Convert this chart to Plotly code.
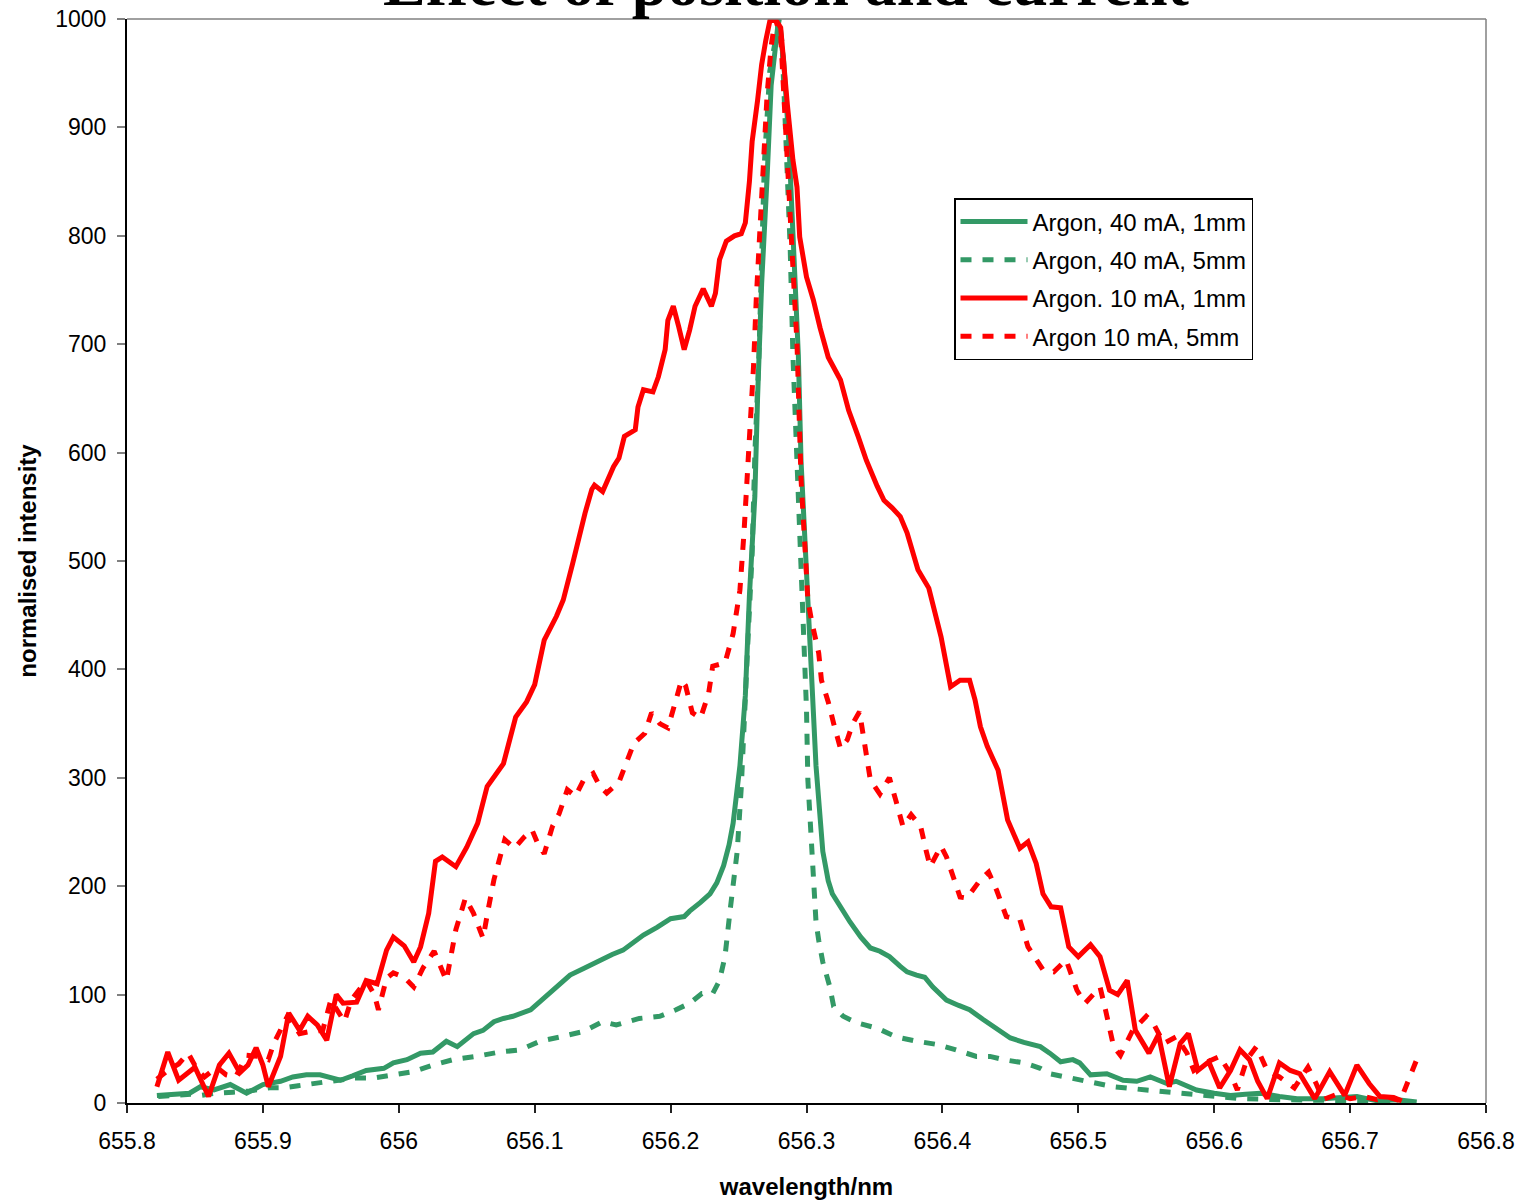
import plotly.graph_objects as go

# ---------------- data ----------------
wl_40_1 = [655.822, 655.835, 655.846, 655.854, 655.864, 655.876, 655.888, 655.900, 655.913, 655.922,
           655.932, 655.942, 655.950, 655.957, 655.966, 655.976, 655.989, 655.996, 656.006, 656.016,
           656.025, 656.035, 656.043, 656.055, 656.062, 656.070, 656.077, 656.084, 656.097, 656.104,
           656.111, 656.118, 656.126, 656.136, 656.148, 656.157, 656.165, 656.172, 656.180, 656.190,
           656.200, 656.210, 656.214, 656.222, 656.229, 656.234, 656.239, 656.243, 656.246, 656.251,
           656.255, 656.258, 656.262, 656.264, 656.267, 656.271, 656.274, 656.279, 656.283, 656.287,
           656.290, 656.294, 656.296, 656.300, 656.304, 656.307, 656.312, 656.316, 656.319, 656.325,
           656.332, 656.340, 656.347, 656.354, 656.361, 656.369, 656.374, 656.381, 656.387, 656.393,
           656.403, 656.412, 656.420, 656.430, 656.440, 656.450, 656.460, 656.467, 656.472, 656.479,
           656.487, 656.496, 656.501, 656.509, 656.521, 656.533, 656.543, 656.553, 656.565, 656.572,
           656.587, 656.600, 656.612, 656.623, 656.634, 656.648, 656.661, 656.680, 656.697, 656.705,
           656.720, 656.735, 656.749]
int_40_1 = [7, 8, 9, 15, 12, 17, 9, 17, 20, 24,
            26, 26, 23, 21, 25, 30, 32, 37, 40, 46,
            47, 57, 52, 64, 67, 75, 78, 80, 86, 94,
            101, 110, 118, 124, 132, 137, 141, 148, 155, 162,
            170, 172, 177, 185, 193, 203, 219, 238, 258, 311,
            376, 468, 560, 651, 756, 854, 939, 995, 965, 887,
            802, 690, 592, 494, 396, 311, 232, 205, 193, 180,
            167, 153, 143, 140, 135, 126, 121, 118, 116, 107,
            95, 90, 86, 77, 68, 60, 56, 53, 52, 46,
            38, 40, 37, 26, 27, 21, 20, 24, 18, 20,
            12, 9, 7, 8, 9, 6, 4, 4, 6, 6,
            2, 3, 1]

wl_40_5 = [655.823, 655.835, 655.847, 655.854, 655.865, 655.878, 655.890, 655.905, 655.915, 655.926,
           655.937, 655.952, 655.967, 655.981, 655.996, 656.011, 656.025, 656.040, 656.057, 656.074,
           656.089, 656.104, 656.119, 656.136, 656.150, 656.160, 656.177, 656.192, 656.204, 656.214,
           656.223, 656.231, 656.236, 656.240, 656.244, 656.249, 656.252, 656.255, 656.257, 656.260,
           656.262, 656.265, 656.267, 656.269, 656.273, 656.280, 656.282, 656.285, 656.288, 656.290,
           656.293, 656.295, 656.298, 656.300, 656.301, 656.304, 656.307, 656.309, 656.312, 656.317,
           656.320, 656.327, 656.337, 656.352, 656.366, 656.381, 656.396, 656.410, 656.425, 656.435,
           656.445, 656.460, 656.472, 656.479, 656.490, 656.501, 656.526, 656.550, 656.575, 656.599,
           656.620, 656.650, 656.680, 656.710, 656.749]
int_40_5 = [6, 7, 8, 7, 9, 10, 11, 14, 14, 16,
            18, 20, 23, 23, 26, 29, 35, 40, 43, 47,
            49, 57, 61, 66, 75, 72, 78, 80, 86, 92,
            101, 101, 113, 135, 180, 232, 291, 363, 429, 507,
            599, 690, 782, 867, 952, 1000, 978, 887, 789, 690,
            592, 507, 429, 363, 298, 232, 167, 150, 130, 108,
            89, 80, 74, 69, 61, 57, 54, 49, 43, 43,
            40, 37, 32, 27, 24, 21, 15, 12, 9, 6,
            4, 3, 2, 2, 1]

wl_10_1 = [655.822, 655.830, 655.838, 655.846, 655.850, 655.860, 655.868, 655.875, 655.883, 655.889,
           655.895, 655.900, 655.904, 655.913, 655.919, 655.927, 655.933, 655.940, 655.947, 655.954,
           655.959, 655.969, 655.976, 655.984, 655.991, 655.996, 656.004, 656.011, 656.016, 656.022,
           656.027, 656.032, 656.037, 656.042, 656.050, 656.058, 656.065, 656.071, 656.077, 656.086,
           656.094, 656.100, 656.107, 656.116, 656.121, 656.128, 656.133, 656.137, 656.142, 656.144,
           656.150, 656.158, 656.162, 656.166, 656.174, 656.176, 656.180, 656.187, 656.191, 656.196,
           656.198, 656.202, 656.206, 656.210, 656.214, 656.218, 656.224, 656.230, 656.233, 656.236,
           656.241, 656.247, 656.252, 656.255, 656.258, 656.260, 656.264, 656.267, 656.270, 656.273,
           656.277, 656.281, 656.286, 656.290, 656.293, 656.295, 656.300, 656.305, 656.310, 656.316,
           656.325, 656.331, 656.338, 656.344, 656.352, 656.357, 656.363, 656.369, 656.374, 656.382,
           656.390, 656.399, 656.406, 656.413, 656.420, 656.424, 656.428, 656.433, 656.441, 656.448,
           656.457, 656.463, 656.469, 656.474, 656.480, 656.487, 656.493, 656.500, 656.509, 656.516,
           656.523, 656.529, 656.536, 656.542, 656.552, 656.559, 656.567, 656.575, 656.581, 656.588,
           656.596, 656.604, 656.612, 656.619, 656.626, 656.632, 656.639, 656.648, 656.656, 656.663,
           656.674, 656.685, 656.696, 656.705, 656.714, 656.722, 656.732, 656.738]
int_10_1 = [15, 47, 21, 30, 33, 6, 35, 46, 28, 35,
            51, 35, 15, 43, 83, 67, 80, 72, 58, 100,
            92, 93, 113, 110, 141, 153, 145, 130, 144, 175,
            223, 227, 222, 218, 236, 258, 292, 303, 313, 356,
            370, 386, 427, 449, 464, 498, 526, 544, 566, 570,
            564, 587, 595, 615, 621, 642, 658, 656, 670, 695,
            722, 735, 716, 695, 713, 735, 751, 735, 747, 778,
            795, 800, 802, 812, 850, 887, 925, 958, 980, 998,
            1000, 992, 920, 870, 845, 799, 762, 741, 715, 688,
            667, 639, 615, 593, 569, 556, 549, 541, 526, 492,
            475, 430, 384, 390, 390, 372, 347, 329, 307, 261,
            235, 241, 221, 193, 181, 180, 144, 135, 146, 135,
            104, 100, 113, 67, 46, 63, 15, 55, 64, 30,
            38, 14, 30, 49, 40, 20, 4, 37, 30, 27,
            4, 29, 7, 35, 18, 6, 5, 2]

wl_10_5 = [655.822, 655.830, 655.838, 655.845, 655.852, 655.857, 655.866, 655.873, 655.880, 655.888,
           655.897, 655.904, 655.908, 655.918, 655.927, 655.935, 655.944, 655.950, 655.960, 655.965,
           655.976, 655.982, 655.985, 655.991, 655.996, 656.004, 656.011, 656.018, 656.026, 656.030,
           656.035, 656.042, 656.049, 656.055, 656.062, 656.066, 656.070, 656.078, 656.085, 656.092,
           656.098, 656.102, 656.107, 656.113, 656.118, 656.124, 656.130, 656.136, 656.143, 656.148,
           656.153, 656.162, 656.168, 656.173, 656.181, 656.186, 656.192, 656.198, 656.204, 656.208,
           656.211, 656.216, 656.222, 656.228, 656.231, 656.240, 656.246, 656.251, 656.254, 656.256,
           656.258, 656.261, 656.263, 656.265, 656.268, 656.271, 656.274, 656.277, 656.281, 656.284,
           656.288, 656.290, 656.293, 656.295, 656.296, 656.299, 656.301, 656.304, 656.309, 656.311,
           656.316, 656.320, 656.325, 656.330, 656.334, 656.339, 656.343, 656.347, 656.354, 656.361,
           656.366, 656.371, 656.377, 656.384, 656.388, 656.391, 656.399, 656.403, 656.413, 656.418,
           656.428, 656.434, 656.440, 656.447, 656.457, 656.463, 656.474, 656.482, 656.491, 656.499,
           656.505, 656.516, 656.520, 656.526, 656.531, 656.540, 656.550, 656.555, 656.563, 656.572,
           656.580, 656.585, 656.595, 656.604, 656.612, 656.617, 656.624, 656.631, 656.639, 656.648,
           656.659, 656.669, 656.675, 656.680, 656.690, 656.700, 656.710, 656.720, 656.729, 656.737,
           656.742, 656.749]
int_10_5 = [22, 30, 36, 46, 30, 24, 33, 26, 24, 44,
            43, 40, 55, 80, 64, 66, 67, 95, 75, 95,
            113, 100, 86, 115, 120, 116, 107, 125, 140, 128,
            113, 160, 189, 175, 152, 180, 206, 243, 235, 245,
            252, 240, 230, 255, 267, 289, 283, 298, 304, 292,
            286, 296, 316, 332, 341, 360, 350, 346, 372, 390,
            385, 360, 355, 378, 403, 406, 433, 473, 526, 569,
            618, 679, 741, 787, 860, 930, 975, 1000, 985, 920,
            833, 771, 701, 618, 575, 510, 464, 443, 415, 390,
            370, 350, 327, 335, 350, 361, 330, 298, 285, 300,
            278, 255, 266, 255, 233, 218, 237, 227, 190, 189,
            206, 213, 196, 172, 169, 144, 123, 121, 132, 104,
            92, 107, 86, 52, 44, 67, 80, 74, 55, 61,
            46, 30, 38, 43, 27, 12, 40, 52, 30, 24,
            14, 33, 18, 3, 8, 4, 6, 3, 5, 2,
            18, 40]

series_names = ["Argon, 40 mA, 1mm", "Argon, 40 mA, 5mm", "Argon. 10 mA, 1mm", "Argon 10 mA, 5mm"]
x_ticks = [655.8, 655.9, 656.0, 656.1, 656.2, 656.3, 656.4, 656.5, 656.6, 656.7, 656.8]
x_tick_text = ["655.8", "655.9", "656", "656.1", "656.2", "656.3", "656.4", "656.5", "656.6", "656.7", "656.8"]

GREEN = "#339966"
RED = "#FF0000"
SANS = "Arial, Liberation Sans, sans-serif"
SERIF = "Times New Roman, Liberation Serif, serif"

fig = go.Figure()
specs = [
    (wl_40_1, int_40_1, series_names[0], GREEN, "solid", "g1"),
    (wl_40_5, int_40_5, series_names[1], GREEN, "11px,11px", "g2"),
    (wl_10_1, int_10_1, series_names[2], RED, "solid", "g3"),
    (wl_10_5, int_10_5, series_names[3], RED, "11px,11px", "g4"),
]
for xs, ys, name, col, dash, grp in specs:
    fig.add_trace(go.Scatter(x=xs, y=ys, name=name, mode="lines", legendgroup=grp,
                             line=dict(color=col, width=5, dash=dash)))

fig.update_layout(
    width=1520, height=1200,
    margin=dict(l=127, r=34, t=19, b=97, autoexpand=False),
    paper_bgcolor="white", plot_bgcolor="white",
    font=dict(family=SANS, size=23, color="black"),
    showlegend=True,
    legend=dict(x=(954 - 127) / 1359, y=(1103 - 198) / 1084, xanchor="left", yanchor="top",
                bgcolor="white", bordercolor="black", borderwidth=1.5,
                font=dict(family=SANS, size=24, color="black"),
                itemwidth=67, tracegroupgap=4, traceorder="grouped"),
    xaxis=dict(range=[655.8, 656.8], tickvals=x_ticks, ticktext=x_tick_text,
               showline=True, linecolor="black", linewidth=2, showgrid=False, zeroline=False,
               ticks="outside", ticklen=8, tickwidth=1.5, tickcolor="#222",
               tickfont=dict(family=SANS, size=23), ticklabelstandoff=8,
               title=dict(text="<b>wavelength/nm</b>", font=dict(family=SANS, size=24), standoff=26)),
    yaxis=dict(range=[0, 1000], dtick=100, tick0=0,
               showline=True, linecolor="black", linewidth=2, showgrid=False, zeroline=False,
               ticks="outside", ticklen=8, tickwidth=1.5, tickcolor="#808080",
               tickfont=dict(family=SANS, size=23), ticklabelstandoff=6,
               title=dict(text="<b>normalised intensity</b>", font=dict(family=SANS, size=24), standoff=12)),
    shapes=[
        dict(type="line", xref="paper", yref="paper", x0=0, x1=1, y0=1, y1=1,
             line=dict(color="#808080", width=1.5)),
        dict(type="line", xref="paper", yref="paper", x0=1, x1=1, y0=0, y1=1,
             line=dict(color="#808080", width=1.5)),
    ],
    annotations=[
        dict(text="<b>Effect of position and current</b>", xref="paper", yref="paper",
             x=(786 - 127) / 1359, y=1 + (19 + 16) / 1084, xanchor="center", yanchor="middle",
             showarrow=False, font=dict(family=SERIF, size=64, color="black")),
    ],
)

fig.write_html("out.html")
